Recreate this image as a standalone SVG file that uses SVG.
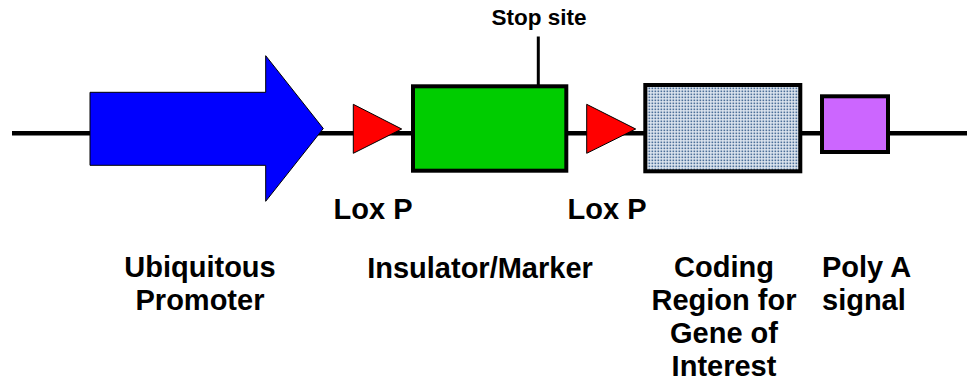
<svg xmlns="http://www.w3.org/2000/svg" width="967" height="391" viewBox="0 0 967 391">
<style>
.lbl{font-family:"Liberation Sans",Arial,sans-serif;font-weight:bold;font-size:29px;fill:#000}
.small{font-size:22.5px}
.mid{text-anchor:middle}
.box{stroke:#000;stroke-width:4}
.tri{fill:#FF0000;stroke:#000;stroke-width:1}
.wire{stroke:#000;fill:none}
</style>
<defs>
<pattern id="dots" x="0" y="0" width="3" height="3" patternUnits="userSpaceOnUse">
<rect width="3" height="3" fill="#e2e9f2"/>
<rect x="0.5" y="0.5" width="1.7" height="1.7" fill="#4d7099"/>
</pattern>
</defs>
<rect width="967" height="391" fill="#fff"/>
<g id="connectors">
<line class="wire" x1="12" y1="133.3" x2="967" y2="133.3" stroke-width="4.5"/>
<line class="wire" x1="538.3" y1="36.5" x2="538.3" y2="86" stroke-width="3"/>
</g>
<g id="promoter">
<polygon points="90,92.3 265.7,92.3 265.7,55.7 323.3,128.5 265.7,201.3 265.7,165.3 90,165.3" fill="#0000FF" stroke="#000" stroke-width="1"/>
<text class="lbl mid" x="200" y="277">Ubiquitous</text>
<text class="lbl mid" x="200" y="310">Promoter</text>
</g>
<g id="loxp1">
<polygon class="tri" points="353.3,104.3 401.7,129 353.3,153.3"/>
<text class="lbl mid" x="373" y="219">Lox P</text>
</g>
<g id="insulator">
<rect class="box" x="413" y="86.3" width="153.3" height="84.4" fill="#00CC00"/>
<text class="lbl mid" x="480" y="278">Insulator/Marker</text>
</g>
<g id="stopsite">
<text class="lbl small mid" x="539" y="25">Stop site</text>
</g>
<g id="loxp2">
<polygon class="tri" points="586.7,104.3 635.7,129 586.7,153.3"/>
<text class="lbl mid" x="607" y="219">Lox P</text>
</g>
<g id="coding">
<rect class="box" x="645.3" y="85" width="155" height="86.3" fill="url(#dots)"/>
<text class="lbl mid" x="724" y="277">Coding</text>
<text class="lbl mid" x="724" y="310">Region for</text>
<text class="lbl mid" x="724" y="343">Gene of</text>
<text class="lbl mid" x="724" y="376">Interest</text>
</g>
<g id="polya">
<rect class="box" x="822" y="96.3" width="66" height="55.7" fill="#CC66FF"/>
<text class="lbl" x="822" y="277">Poly A</text>
<text class="lbl" x="822" y="310">signal</text>
</g>
</svg>
